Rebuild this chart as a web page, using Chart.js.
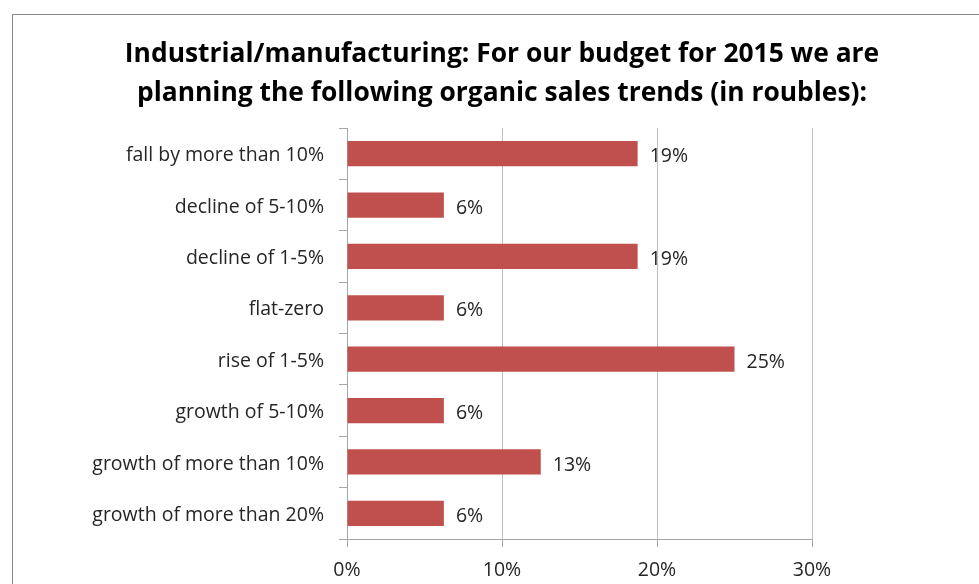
<!DOCTYPE html>
<html lang="en">
<head>
    <title>Organic sales trends 2015</title>
    <meta charset="UTF-8">
    <script src="https://cdn.jsdelivr.net/npm/chart.js"></script>
    <style>
        html, body {
            margin: 0;
            padding: 0;
            background: #fff;
            overflow: hidden;
        }
        #frame {
            position: absolute;
            left: 12px;
            top: 14px;
            width: 1000px;
            height: 620px;
            border: 1px solid #888;
        }
        #wrap {
            position: absolute;
            left: 0;
            top: 0;
            width: 979px;
            height: 584px;
        }
    </style>
</head>
<body>
    <div id="frame"></div>
    <div id="wrap">
        <canvas id="chart" width="979" height="584"></canvas>
    </div>
    <script>
        // Answers, top to bottom
        var categories = [
            'fall by more than 10%',
            'decline of 5-10%',
            'decline of 1-5%',
            'flat-zero',
            'rise of 1-5%',
            'growth of 5-10%',
            'growth of more than 10%',
            'growth of more than 20%'
        ];
        // Share of respondents, %
        var shares = [18.75, 6.25, 18.75, 6.25, 25, 6.25, 12.5, 6.25];
        var xTicks = [0, 10, 20, 30];
        var titleLines = [
            'Industrial/manufacturing: For our budget for 2015 we are',
            'planning the following organic sales trends (in roubles):'
        ];

        Chart.defaults.font.family = '"Open Sans", sans-serif';
        Chart.defaults.color = '#262626';

        // Title centred on the whole frame, not just the plot
        var frameTitle = {
            id: 'frameTitle',
            afterDraw: function (chart) {
                var ctx = chart.ctx;
                ctx.save();
                ctx.font = 'bold 26.4px "Open Sans", sans-serif';
                ctx.fillStyle = '#000';
                ctx.textAlign = 'center';
                ctx.textBaseline = 'middle';
                titleLines.forEach(function (line, i) {
                    ctx.fillText(line, 502, 54 + i * 39);
                });
                ctx.restore();
            }
        };

        // Percent labels to the right of each bar
        var valueLabels = {
            id: 'valueLabels',
            afterDatasetsDraw: function (chart) {
                var ctx = chart.ctx;
                var meta = chart.getDatasetMeta(0);
                ctx.save();
                ctx.font = '19.5px "Open Sans", sans-serif';
                ctx.fillStyle = '#262626';
                ctx.textAlign = 'left';
                ctx.textBaseline = 'middle';
                meta.data.forEach(function (bar, i) {
                    ctx.fillText(Math.round(shares[i]) + '%', bar.x + 12, bar.y + 3);
                });
                ctx.restore();
            }
        };

        var ctx = document.getElementById('chart').getContext('2d');
        var chart = new Chart(ctx, {
            type: 'bar',
            data: {
                labels: categories,
                datasets: [{
                    data: shares,
                    backgroundColor: '#C0504D',
                    categoryPercentage: 1,
                    barPercentage: 0.49
                }]
            },
            options: {
                indexAxis: 'y',
                responsive: false,
                animation: false,
                layout: {
                    padding: { left: 0, right: 167, top: 128, bottom: 0 }
                },
                plugins: {
                    legend: { display: false },
                    tooltip: { enabled: false },
                    title: { display: false }
                },
                scales: {
                    x: {
                        min: 0,
                        max: 30,
                        afterBuildTicks: function (scale) {
                            scale.ticks = xTicks.map(function (v) { return { value: v }; });
                        },
                        afterFit: function (scale) {
                            scale.height = 45;
                        },
                        ticks: {
                            padding: 12,
                            font: { size: 19.5 },
                            color: '#262626',
                            callback: function (v) { return v + '%'; }
                        },
                        grid: {
                            color: '#bfbfbf',
                            lineWidth: 1,
                            tickLength: 8,
                            tickColor: '#a6a6a6'
                        },
                        border: { display: true, color: '#a6a6a6' }
                    },
                    y: {
                        afterFit: function (scale) {
                            scale.width = 347;
                        },
                        ticks: {
                            padding: 15,
                            labelOffset: 2,
                            font: { size: 19.5 },
                            color: '#262626'
                        },
                        grid: {
                            offset: true,
                            drawOnChartArea: false,
                            tickLength: 8,
                            color: '#a6a6a6'
                        },
                        border: { display: true, color: '#a6a6a6' }
                    }
                }
            },
            plugins: [valueLabels, frameTitle]
        });
    </script>
</body>
</html>
